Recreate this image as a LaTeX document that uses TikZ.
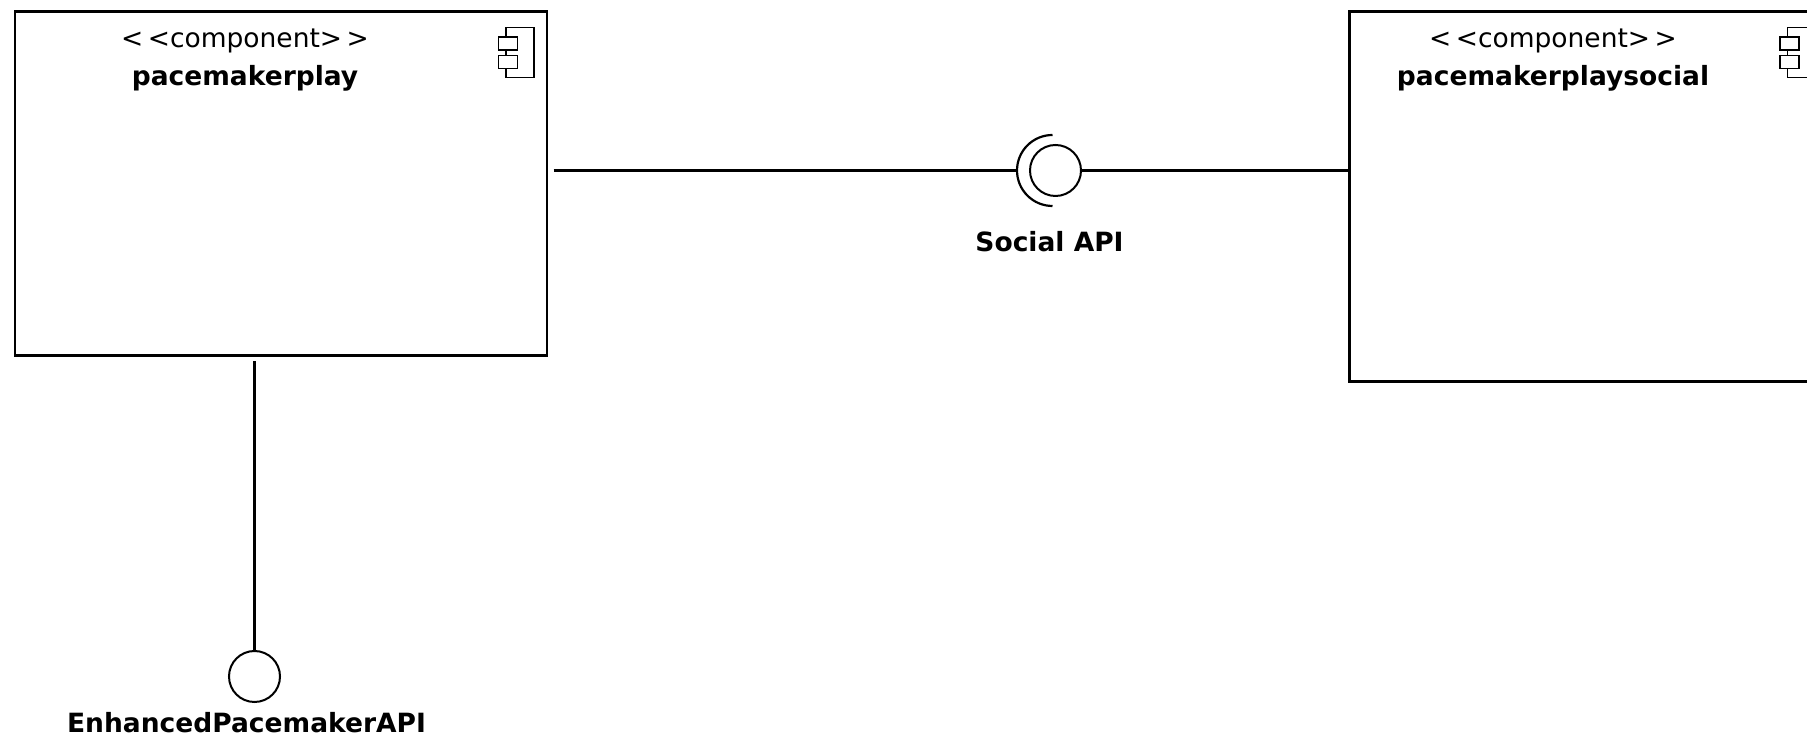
\documentclass[tikz,border=0pt]{standalone}
\usepackage{fontspec}
\setmainfont{DejaVu Sans}
\usetikzlibrary{positioning}
\tikzset{
compbox/.style={draw,
  line width=2.2pt,
  outer sep=0pt,
  minimum width=532pt},
stereo/.style={inner sep=0pt,
  font=\fontsize{26.5}{30}\selectfont},
compname/.style={inner sep=0pt,
  font=\fontsize{26.5}{30}\selectfont\bfseries},
iconbody/.style={draw,
  line width=1.8pt,
  outer sep=0pt,
  minimum width=28pt,
  minimum height=50pt},
icontab/.style={draw,
  fill=white,
  line width=1.8pt,
  outer sep=0pt,
  minimum width=19pt,
  minimum height=13pt},
}
\tikzset{iface/.style={circle,draw,line width=2pt,minimum size=51pt,inner sep=0pt,outer sep=0pt}}
\tikzset{conn/.style={line width=2.2pt}}

\begin{document}
\begin{tikzpicture}[x=1pt,y=1pt]
    \path [use as bounding box, clip] (0,0) rectangle (1807,738);

    \node [compbox, minimum height=344pt, anchor=north west] (play) at (15,726.5) {};
    \node [compbox, minimum width=478pt, minimum height=370pt, right=802.5pt of play.north east, anchor=north west] (social) {};

    \node [stereo] (playst) at (245,697.5) {<\,<component>\,>};
    \node [compname, below=12pt of playst] (playname) {pacemakerplay};
    \node [stereo] (socialst) at (1553,697.5) {<\,<component>\,>};
    \node [compname, below=12pt of socialst] (socialname) {pacemakerplaysocial};

    \node [iconbody, below left=16pt and 13pt of play.north east, anchor=north east] (playicon) {};
    \node [icontab] (playtaba) at ([xshift=2pt,yshift=9pt]playicon.west) {};
    \node [icontab] (playtabb) at ([xshift=2pt,yshift=-9.5pt]playicon.west) {};
    \node [iconbody, below right=16pt and 438pt of social.north west, anchor=north west] (socialicon) {};
    \node [icontab] (socialtaba) at ([xshift=2pt,yshift=9pt]socialicon.west) {};
    \node [icontab] (socialtabb) at ([xshift=2pt,yshift=-9.5pt]socialicon.west) {};

    \node [iface] (api) at (1055.5,567.5) {};
    \node [compname, below=35pt of api, xshift=-6pt] (apiname) {Social API};
    \coordinate [above left=35.5pt and 3pt of api.center] (socktop);
    \coordinate [left=38.5pt of api.center] (sockw);

    \node [iface] (enhanced) at (254.5,61.5) {};
    \node [compname, below=10pt of enhanced, xshift=-8pt] (enhancedname) {EnhancedPacemakerAPI};

    \draw [conn] (socktop) arc[start angle=90,end angle=270,radius=35.5pt];
  \draw [conn, shorten <=6.5pt] (play.east |- api) -- (sockw);
  \draw [conn] (api.east) -- (social.west |- api);
  \draw [conn, shorten <=6pt] (play.south -| enhanced.north) -- (enhanced.north);
  \end{tikzpicture}
\end{document}
